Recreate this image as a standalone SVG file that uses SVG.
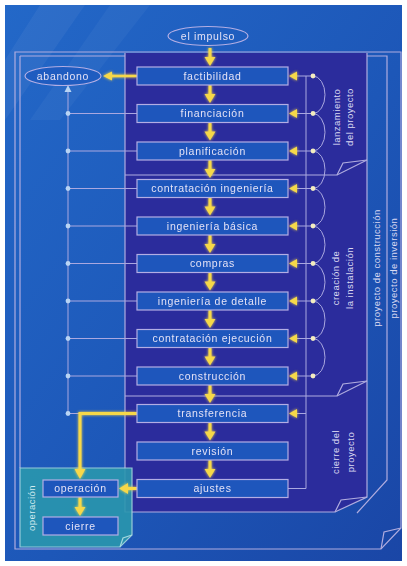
<svg xmlns="http://www.w3.org/2000/svg" width="407" height="566" viewBox="0 0 407 566">
<defs>
<linearGradient id="bg" x1="0" y1="0" x2="1" y2="1">
<stop offset="0" stop-color="#2368c8"/>
<stop offset="0.55" stop-color="#1d57b8"/>
<stop offset="1" stop-color="#1a46a6"/>
</linearGradient>
<filter id="glow" x="-50%" y="-50%" width="200%" height="200%">
<feGaussianBlur stdDeviation="1.4" result="b"/>
<feMerge><feMergeNode in="b"/><feMergeNode in="SourceGraphic"/></feMerge>
</filter>
<g id="da">
<line x1="210" y1="0" x2="210" y2="10" stroke="#f6d84a" stroke-width="3"/>
<polygon points="204.5,9 215.5,9 210,18" fill="#f6d84a"/>
</g>
<g id="ra">
<polygon points="289,0 297,-4.5 297,4.5" fill="#f6d84a"/>
</g>
</defs>
<style>
.box{fill:#1e56bc;stroke:#b3aee4;stroke-width:1.2}
.t{font-family:"Liberation Sans",Arial,sans-serif;font-size:10.5px;fill:#e4e2f6;text-anchor:middle;letter-spacing:0.7px}
.v{font-family:"Liberation Sans",Arial,sans-serif;font-size:9.5px;fill:#dcdaf2;text-anchor:middle;letter-spacing:0.5px}
.ln{stroke:#aaa8e0;stroke-width:1;fill:none}
.fr{stroke:#b0acdf;stroke-width:1.2;fill:none}
.y{stroke:#f6d84a;stroke-width:3;fill:none}
.yh{fill:#f6d84a}
.ldot{fill:#b8d4f4}
.rdot{fill:#f3ecc0}
</style>

<!-- background -->
<rect x="5" y="5" width="397" height="556" fill="url(#bg)"/>
<polygon points="40,5 85,5 5,120 5,60" fill="#ffffff" opacity="0.05"/>
<polygon points="110,5 150,5 60,120 30,120" fill="#ffffff" opacity="0.04"/>

<!-- frames -->
<g id="frames">
<path class="fr" d="M15,52 H401 V528 L381,549 H15 Z"/>
<path class="fr" d="M381,549 L384,532 L401,528"/>
<path class="fr" d="M20,56 H387 V480 L357,513"/>
<path class="fr" d="M20,56 V468"/>
<path d="M125,53 H367 V497 L335,512 H125 Z" fill="#2b2c9c"/>
<path class="fr" d="M125,53 V512 H335 L367,497 V53"/>
<path class="fr" d="M335,512 L341,500 L367,497"/>
<path class="fr" d="M125,175 H337 L367,160"/>
<path class="fr" d="M337,175 L343,163 L367,160"/>
<path class="fr" d="M125,396 H337 L367,381"/>
<path class="fr" d="M337,396 L343,384 L367,381"/>
<path d="M20,468 H132 V535 L120,547 H20 Z" fill="#2a97ae" opacity="0.9" stroke="#a4d8de" stroke-width="1.2"/>
<path d="M120,547 L123,538 L132,535" fill="none" stroke="#a4d8de" stroke-width="1.2"/>
</g>

<!-- phase labels -->
<g id="labels">
<text class="v" transform="translate(340,117) rotate(-90)">lanzamiento</text>
<text class="v" transform="translate(353,117) rotate(-90)">del proyecto</text>
<text class="v" transform="translate(339,278) rotate(-90)">creación de</text>
<text class="v" transform="translate(353,278) rotate(-90)">la instalación</text>
<text class="v" transform="translate(380,268) rotate(-90)">proyecto de construcción</text>
<text class="v" transform="translate(397,268) rotate(-90)">proyecto de inversión</text>
<text class="v" transform="translate(339,452) rotate(-90)">cierre del</text>
<text class="v" transform="translate(354,452) rotate(-90)">proyecto</text>
<text class="v" transform="translate(35,508) rotate(-90)" style="fill:#d2ecf0">operación</text>
</g>

<!-- connectors -->
<g id="connectors">
<!-- left feedback bus -->
<line class="ln" x1="68" y1="90" x2="68" y2="413.5"/>
<polygon points="68,85 64.5,92 71.5,92" class="ldot"/>
<path class="ln" d="M68,113.5 H137 M68,151 H137 M68,188.5 H137 M68,226 H137 M68,263.5 H137 M68,301 H137 M68,338.5 H137 M68,376 H137 M68,413.5 H137"/>
<g class="ldot">
<circle cx="68" cy="113.5" r="2.4"/><circle cx="68" cy="151" r="2.4"/><circle cx="68" cy="188.5" r="2.4"/>
<circle cx="68" cy="226" r="2.4"/><circle cx="68" cy="263.5" r="2.4"/><circle cx="68" cy="301" r="2.4"/>
<circle cx="68" cy="338.5" r="2.4"/><circle cx="68" cy="376" r="2.4"/><circle cx="68" cy="413.5" r="2.4"/>
</g>
<!-- right bus -->
<line class="ln" x1="306" y1="76" x2="306" y2="488.5"/>
<path class="ln" d="M296,76 H313 M296,113.5 H313 M296,151 H313 M296,188.5 H313 M296,226 H313 M296,263.5 H313 M296,301 H313 M296,338.5 H313 M296,376 H313 M296,413.5 H306 M288,488.5 H306"/>
<path class="ln" d="M313,76 A12,18.75 0 0 1 313,113.5 A12,18.75 0 0 1 313,151 A12,18.75 0 0 1 313,188.5 A12,18.75 0 0 1 313,226 A12,18.75 0 0 1 313,263.5 A12,18.75 0 0 1 313,301 A12,18.75 0 0 1 313,338.5 A12,18.75 0 0 1 313,376"/>
<g class="rdot">
<circle cx="313" cy="76" r="2.4"/><circle cx="313" cy="113.5" r="2.4"/><circle cx="313" cy="151" r="2.4"/>
<circle cx="313" cy="188.5" r="2.4"/><circle cx="313" cy="226" r="2.4"/><circle cx="313" cy="263.5" r="2.4"/>
<circle cx="313" cy="301" r="2.4"/><circle cx="313" cy="338.5" r="2.4"/><circle cx="313" cy="376" r="2.4"/>
</g>
<g filter="url(#glow)">
<use href="#ra" y="76"/><use href="#ra" y="113.5"/><use href="#ra" y="151"/><use href="#ra" y="188.5"/>
<use href="#ra" y="226"/><use href="#ra" y="263.5"/><use href="#ra" y="301"/><use href="#ra" y="338.5"/>
<use href="#ra" y="376"/><use href="#ra" y="413.5"/>
<!-- main flow arrows -->
<use href="#da" y="48"/>
<use href="#da" y="85"/><use href="#da" y="122.5"/><use href="#da" y="160"/><use href="#da" y="197.5"/>
<use href="#da" y="235"/><use href="#da" y="272.5"/><use href="#da" y="310"/><use href="#da" y="347.5"/>
<use href="#da" y="385"/><use href="#da" y="422.5"/><use href="#da" y="460"/>
<!-- to abandono -->
<line class="y" x1="110" y1="76" x2="137" y2="76" style="stroke-width:2.5"/>
<polygon class="yh" points="103,76 112,71.5 112,80.5"/>
<!-- transferencia to operación -->
<path class="y" d="M137,413.5 H80 V470"/>
<polygon class="yh" points="74.5,469 85.5,469 80,479"/>
<!-- ajustes to operación -->
<line class="y" x1="126" y1="488.5" x2="137" y2="488.5"/>
<polygon class="yh" points="119,488.5 128,483 128,494"/>
<!-- operación to cierre -->
<line class="y" x1="80" y1="497" x2="80" y2="508"/>
<polygon class="yh" points="74.5,507 85.5,507 80,516"/>
</g>
</g>

<!-- nodes -->
<g id="n-impulso"><ellipse cx="208" cy="36" rx="40" ry="9.5" fill="none" stroke="#b3aee4" stroke-width="1.2"/><text class="t" x="208" y="39.7">el impulso</text></g>
<g id="n-abandono"><ellipse cx="63" cy="76" rx="38" ry="9.5" fill="#1f5cc0" stroke="#b3aee4" stroke-width="1.2"/><text class="t" x="63" y="79.7">abandono</text></g>
<g id="n-factibilidad"><rect class="box" x="137" y="67" width="151" height="18"/><text class="t" x="212.5" y="79.7">factibilidad</text></g>
<g id="n-financiacion"><rect class="box" x="137" y="104.5" width="151" height="18"/><text class="t" x="212.5" y="117.2">financiación</text></g>
<g id="n-planificacion"><rect class="box" x="137" y="142" width="151" height="18"/><text class="t" x="212.5" y="154.7">planificación</text></g>
<g id="n-contratacion-ing"><rect class="box" x="137" y="179.5" width="151" height="18"/><text class="t" x="212.5" y="192.2">contratación ingeniería</text></g>
<g id="n-ing-basica"><rect class="box" x="137" y="217" width="151" height="18"/><text class="t" x="212.5" y="229.7">ingeniería básica</text></g>
<g id="n-compras"><rect class="box" x="137" y="254.5" width="151" height="18"/><text class="t" x="212.5" y="267.2">compras</text></g>
<g id="n-ing-detalle"><rect class="box" x="137" y="292" width="151" height="18"/><text class="t" x="212.5" y="304.7">ingeniería de detalle</text></g>
<g id="n-contratacion-ej"><rect class="box" x="137" y="329.5" width="151" height="18"/><text class="t" x="212.5" y="342.2">contratación ejecución</text></g>
<g id="n-construccion"><rect class="box" x="137" y="367" width="151" height="18"/><text class="t" x="212.5" y="379.7">construcción</text></g>
<g id="n-transferencia"><rect class="box" x="137" y="404.5" width="151" height="18"/><text class="t" x="212.5" y="417.2">transferencia</text></g>
<g id="n-revision"><rect class="box" x="137" y="442" width="151" height="18"/><text class="t" x="212.5" y="454.7">revisión</text></g>
<g id="n-ajustes"><rect class="box" x="137" y="479.5" width="151" height="18"/><text class="t" x="212.5" y="492.2">ajustes</text></g>
<g id="n-operacion"><rect class="box" x="43" y="480" width="75" height="17"/><text class="t" x="80.5" y="492.2">operación</text></g>
<g id="n-cierre"><rect class="box" x="43" y="517" width="75" height="18"/><text class="t" x="80.5" y="529.7">cierre</text></g>
</svg>
